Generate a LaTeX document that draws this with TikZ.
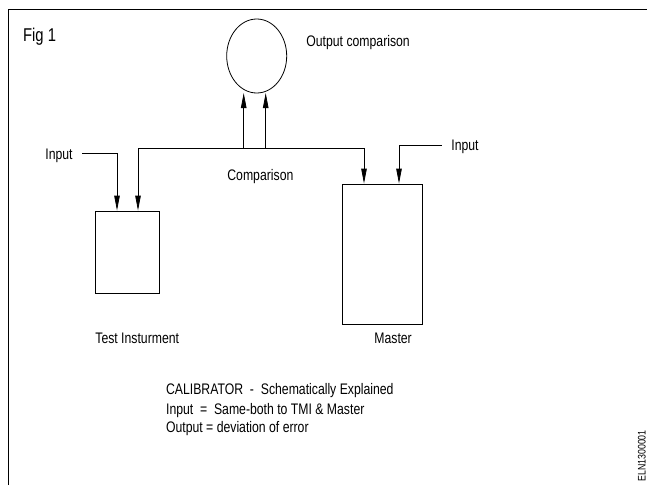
\documentclass[tikz,border=0pt]{standalone}
\usepackage{fontspec}
\setmainfont[FakeStretch=0.8]{Liberation Sans}
\usetikzlibrary{shapes.geometric,arrows.meta}
\begin{document}
\begin{tikzpicture}[x=1pt,y=-1pt,
  line width=0.8pt,
  arr/.style={-{Triangle[length=15pt,width=5.5pt]}},
  lbl/.style={anchor=base west,inner sep=0pt,font=\fontsize{15.3}{18}\selectfont},
  unit/.style={draw,rectangle,inner sep=0pt}]
\useasboundingbox (0,0) rectangle (647,485);
% frame
\draw[line width=1pt] (8,485) -- (8,9) -- (647,9);
% title
\node[lbl,font=\fontsize{18.5}{22}\selectfont] (fig) at (22.7,41.7) {Fig 1};
% comparator and the two instruments
\node[draw,ellipse,minimum width=60pt,minimum height=74pt,inner sep=0pt] (oc) at (256.7,56) {};
\node[unit,minimum width=64pt,minimum height=82pt] (tb) at (127,252) {};
\node[unit,minimum width=80pt,minimum height=140pt] (ms) at (382.7,254) {};
% labels
\node[lbl] (toc) at (306,46.7) {Output comparison};
\node[lbl] (tinl) at (45,159) {Input};
\node[lbl] (tinr) at (451,150) {Input};
\node[lbl] (tcmp) at (227,180) {Comparison};
\node[lbl] (ttb) at (95,343.3) {Test Insturment};
\node[lbl] (tms) at (374,343.3) {Master};
\node[lbl] (n1) at (165.7,394) {CALIBRATOR\ \ -\ \ Schematically Explained};
\node[lbl] (n2) at (165.7,414) {Input\ \ =\ \ Same-both to TMI \& Master};
\node[lbl] (n3) at (165.7,432.7) {Output = deviation of error};
% drawing number along the right edge
\node[anchor=base west,inner sep=0pt,rotate=90,font=\fontsize{11}{13}\selectfont] (code) at (645.5,482) {ELN1300001};
% comparison bus
\coordinate (busL) at (138,148);
\coordinate (busR) at (364,148);
\coordinate (up1) at (243.7,148);
\coordinate (up2) at (265.7,148);
\draw (busL) -- (busR);
\draw[arr] (busL) -- (busL |- tb.north);
\draw[arr] (busR) -- (busR |- ms.north);
\draw[arr] (up1) -- (243.7,93);
\draw[arr] (up2) -- (265.7,93);
% inputs
\coordinate (inL) at (82,153);
\coordinate (kL) at (117,153);
\coordinate (inR) at (441.7,145.7);
\coordinate (kR) at (399,145.7);
\draw[arr] (inL) -- (kL) -- (kL |- tb.north);
\draw[arr] (inR) -- (kR) -- (kR |- ms.north);
\end{tikzpicture}
\end{document}
